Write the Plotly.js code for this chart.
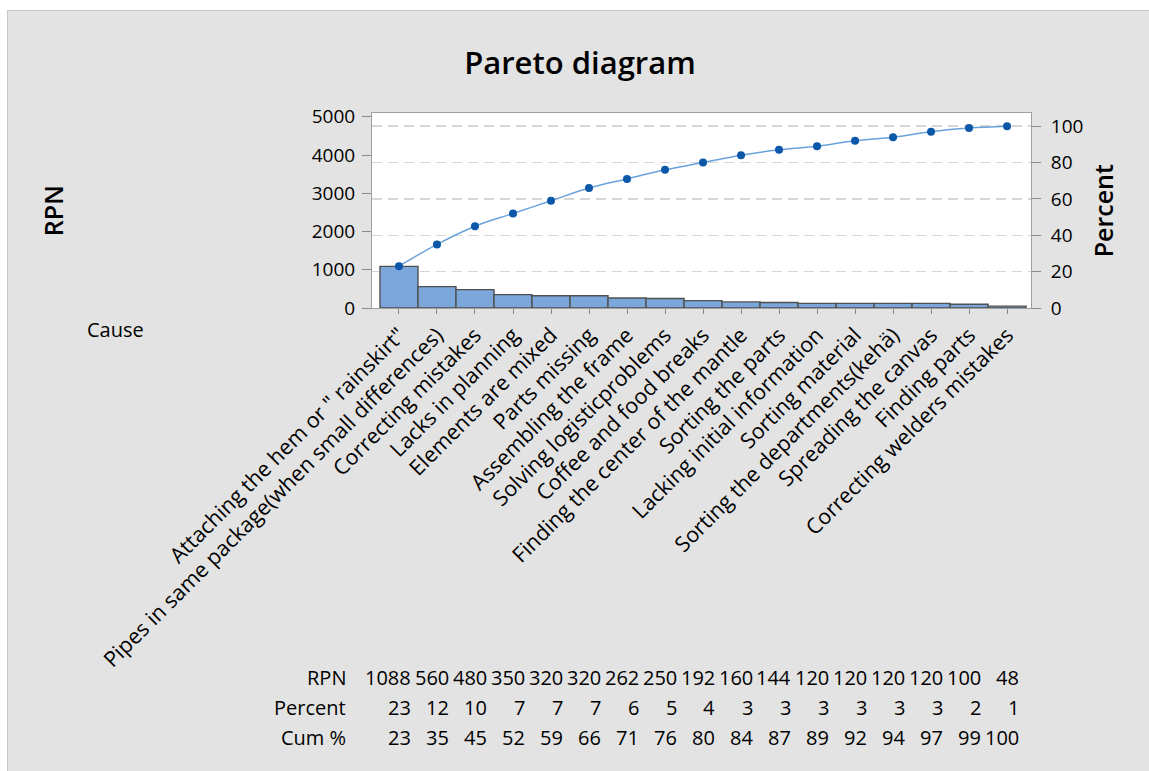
<!DOCTYPE html>
<html>
<head>
<meta charset="utf-8">
<script src="https://cdn.plot.ly/plotly-3.0.1.min.js"></script>
<style>
  html, body { margin: 0; padding: 0; background: #ffffff; width: 1149px; height: 771px; overflow: hidden; }
  #wrap { position: absolute; left: 7px; top: 10px; width: 1142px; height: 761px; box-sizing: border-box;
          background: #e3e3e3; border-top: 1px solid #c6c6c6; border-left: 1px solid #c6c6c6; }
  #chart { position: absolute; left: 0; top: 0; width: 1141px; height: 760px; }
</style>
</head>
<body>
<div id="wrap"><div id="chart"></div></div>
<script>
// ---- data ----
const causes = [
  'Attaching the hem or " rainskirt"',
  'Pipes in same package(when small differences)',
  'Correcting mistakes',
  'Lacks in planning',
  'Elements are mixed',
  'Parts missing',
  'Assembling the frame',
  'Solving logisticproblems',
  'Coffee and food breaks',
  'Finding the center of the mantle',
  'Sorting the parts',
  'Lacking initial information',
  'Sorting material',
  'Sorting the departments(kehä)',
  'Spreading the canvas',
  'Finding parts',
  'Correcting welders mistakes'
];
const rpn     = [1088, 560, 480, 350, 320, 320, 262, 250, 192, 160, 144, 120, 120, 120, 120, 100, 48];
const percent = [23, 12, 10, 7, 7, 7, 6, 5, 4, 3, 3, 3, 3, 3, 3, 2, 1];
const cumPct  = [23, 35, 45, 52, 59, 66, 71, 76, 80, 84, 87, 89, 92, 94, 97, 99, 100];
const rowLabels = ['RPN', 'Percent', 'Cum %'];
const leftTicks = [0, 1000, 2000, 3000, 4000, 5000];
const rightTicks = [0, 20, 40, 60, 80, 100];

// ---- layout helpers ----
const FONT = 'Open Sans, Noto Sans, sans-serif';
const total = rpn.reduce((a, b) => a + b, 0);
const leftMax = 5100;
const rightMax = leftMax / total * 100;

const bars = {
  type: 'bar', x: causes, y: rpn, yaxis: 'y',
  marker: { color: '#7ba7da', line: { color: '#505050', width: 1.4 } },
  width: 1, hoverinfo: 'x+y'
};
const cum = {
  type: 'scatter', mode: 'lines+markers', x: causes, y: cumPct, yaxis: 'y2',
  line: { color: '#6aa3dc', width: 1.5, shape: 'spline', smoothing: 1 },
  marker: { color: '#0b57a8', size: 8 }
};

const annotations = [];
const rowY = [-1.897, -2.051, -2.205];
const rows = [rpn, percent, cumPct];
rows.forEach((vals, r) => {
  annotations.push({ xref: 'paper', yref: 'paper', x: -0.0364, y: rowY[r], xanchor: 'right', yanchor: 'middle',
    text: rowLabels[r], showarrow: false, font: { family: FONT, size: 20, color: '#000' } });
  vals.forEach((v, i) => {
    annotations.push({ xref: 'x', yref: 'paper', x: causes[i], y: rowY[r], xanchor: 'right', yanchor: 'middle',
      xshift: 14, text: String(v), showarrow: false, font: { family: FONT, size: 20, color: '#000' } });
  });
});
annotations.push({ xref: 'paper', yref: 'paper', x: -0.4355, y: -0.108, xanchor: 'left', yanchor: 'middle',
  text: 'Cause', showarrow: false, font: { family: FONT, size: 20, color: '#000' } });
annotations.push({ xref: 'paper', yref: 'paper', x: -0.484, y: 0.497, xanchor: 'center', yanchor: 'middle',
  text: 'RPN', textangle: -90, showarrow: false, font: { family: FONT, size: 25, color: '#000', weight: 600 } });
annotations.push({ xref: 'paper', yref: 'paper', x: 1.109, y: 0.5, xanchor: 'center', yanchor: 'middle',
  text: 'Percent', textangle: -90, showarrow: false, font: { family: FONT, size: 25, color: '#000', weight: 600 } });

const layout = {
  width: 1141, height: 760,
  paper_bgcolor: '#e3e3e3', plot_bgcolor: '#ffffff',
  margin: { l: 364, r: 118, t: 102, b: 463, pad: 0 },
  showlegend: false, bargap: 0,
  font: { family: FONT, size: 19, color: '#000' },
  title: { text: 'Pareto diagram', xref: 'container', yref: 'container', x: 0.5013, y: 0.9316,
           xanchor: 'center', yanchor: 'middle', font: { family: FONT, size: 31, color: '#000', weight: 600 } },
  xaxis: {
    type: 'category', range: [-0.71, 16.63], tickmode: 'array', tickvals: causes, ticktext: causes,
    tickangle: -45, ticks: 'outside', ticklen: 5, tickcolor: '#8c8c8c',
    showline: true, linecolor: '#a0a0a0', linewidth: 1, mirror: true,
    showgrid: false, zeroline: false, automargin: false,
    tickfont: { family: FONT, size: 21.5, color: '#000' }
  },
  yaxis: {
    range: [0, leftMax], tickmode: 'array', tickvals: leftTicks, ticktext: leftTicks.map(String),
    ticks: 'outside', ticklen: 9, tickcolor: '#8c8c8c', ticklabelstandoff: 3,
    showline: true, linecolor: '#a0a0a0', linewidth: 1, mirror: true,
    showgrid: false, zeroline: false, automargin: false,
    tickfont: { family: FONT, size: 19, color: '#000' }
  },
  yaxis2: {
    overlaying: 'y', side: 'right', range: [0, rightMax],
    tickmode: 'array', tickvals: rightTicks, ticktext: rightTicks.map(String),
    ticks: 'outside', ticklen: 9, tickcolor: '#8c8c8c', ticklabelstandoff: 6,
    showline: true, linecolor: '#a0a0a0', linewidth: 1,
    showgrid: true, gridcolor: '#d6d6d6', gridwidth: 1.5, griddash: '10px,6px',
    zeroline: false, automargin: false,
    tickfont: { family: FONT, size: 19, color: '#000' }
  },
  annotations: annotations
};

Plotly.newPlot('chart', [bars, cum], layout, { displayModeBar: false, staticPlot: true });
</script>
</body>
</html>
